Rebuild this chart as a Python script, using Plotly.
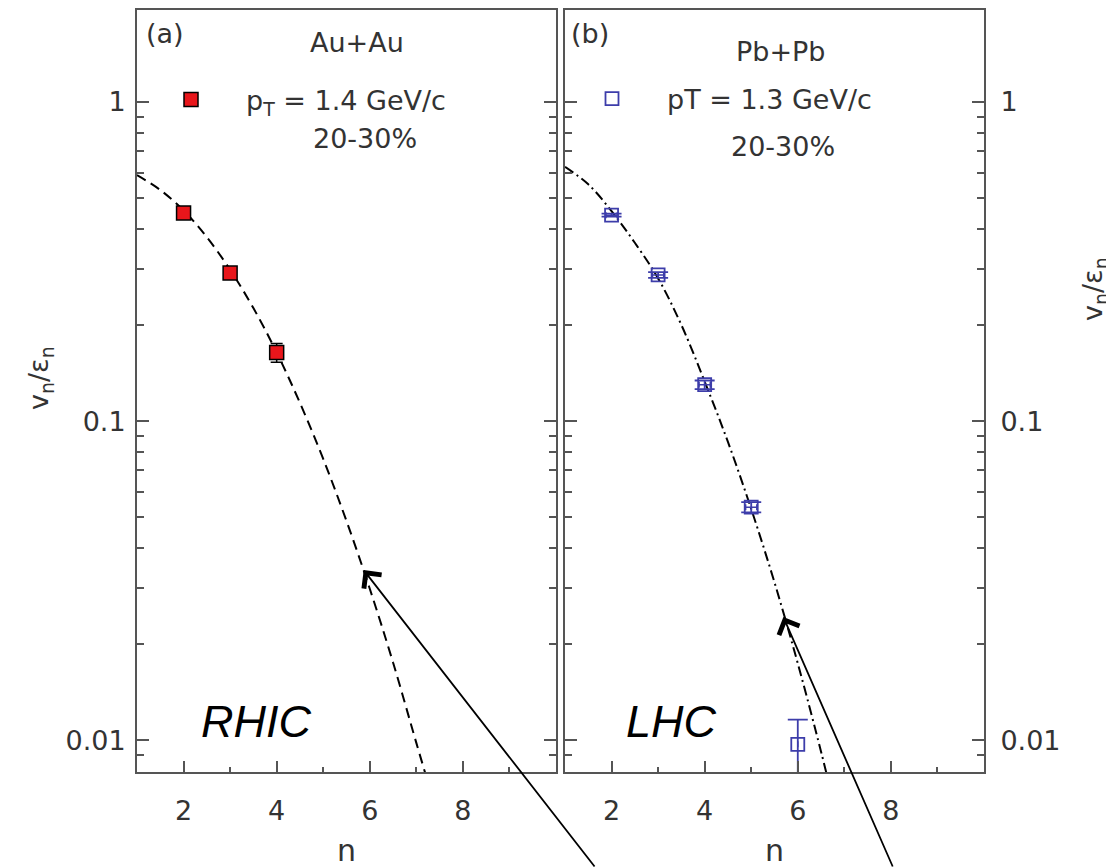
import plotly.graph_objects as go
import math

# ---------------- data ----------------
# RHIC (Au+Au, pT = 1.4 GeV/c, 20-30%)
rhic_n = [2, 3, 4]
rhic_v = [0.449, 0.291, 0.164]
rhic_err = [0.006, 0.008, 0.011]

# RHIC fit curve (dashed)
rhic_curve_n = [1.0, 1.5, 2.0, 2.5, 3.0, 3.5, 4.0, 4.5, 5.0, 5.5, 6.0, 6.5, 7.0, 7.2]
rhic_curve_v = [0.59, 0.53, 0.457, 0.377, 0.298, 0.226, 0.164, 0.114, 0.0761, 0.0486, 0.0298, 0.0175, 0.0098, 0.0078]

# LHC (Pb+Pb, pT = 1.3 GeV/c, 20-30%)
lhc_n = [2, 3, 4, 5, 6]
lhc_v = [0.442, 0.287, 0.130, 0.0537, 0.0097]
lhc_err = [0.005, 0.006, 0.004, 0.002, 0.0019]
lhc_xerr = [0.12, 0.12, 0.12, 0.12, 0.0]

# LHC fit curve (dash-dot)
lhc_curve_n = [1.0, 1.5, 2.0, 2.5, 3.0, 3.5, 4.0, 4.5, 5.0, 5.5, 6.0, 6.5, 6.7]
lhc_curve_v = [0.626, 0.552, 0.455, 0.362, 0.280, 0.200, 0.133, 0.0860, 0.0530, 0.0312, 0.0174, 0.0092, 0.0070]

# arrow targets on the curves (n, value)
rhic_arrow = (5.87, 0.0341)
lhc_arrow = (5.69, 0.0243)

x_ticks = [2, 4, 6, 8]
x_minor = [3, 5, 7, 9]

FONT = "DejaVu Sans"
FS = 27
FRAME = "#555555"
RED = "#e8161b"
BLUE = "#3d3daa"
TXT = "#333333"

# page body has an 8px margin: map reference pixels to figure paper coords
OFF = 8
W, H = 1114 - OFF, 868 - OFF


def px(x):
    return (x - OFF) / W


def py(y):
    return 1 - (y - OFF) / H


fig = go.Figure()

# curves
fig.add_trace(go.Scatter(x=rhic_curve_n, y=rhic_curve_v, mode="lines", xaxis="x", yaxis="y",
                         line=dict(color="black", width=2, dash="10px,6px", shape="spline"),
                         showlegend=False, hoverinfo="skip"))
fig.add_trace(go.Scatter(x=lhc_curve_n, y=lhc_curve_v, mode="lines", xaxis="x2", yaxis="y2",
                         line=dict(color="black", width=2, dash="10px,4px,2px,4px", shape="spline"),
                         showlegend=False, hoverinfo="skip"))

# data points
fig.add_trace(go.Scatter(x=rhic_n, y=rhic_v, mode="markers", xaxis="x", yaxis="y",
                         name="p<sub>T</sub> = 1.4 GeV/c", legend="legend",
                         marker=dict(symbol="square", size=14, color=RED,
                                     line=dict(color="black", width=1.5)),
                         error_y=dict(type="data", array=rhic_err, color="black",
                                      thickness=1.5, width=6)))
fig.add_trace(go.Scatter(x=lhc_n, y=lhc_v, mode="markers", xaxis="x2", yaxis="y2",
                         name="pT = 1.3 GeV/c", legend="legend2",
                         marker=dict(symbol="square-open", size=13, color=BLUE,
                                     line=dict(color=BLUE, width=1.8)),
                         error_y=dict(type="data", array=lhc_err, color=BLUE,
                                      thickness=1.8, width=10),
                         error_x=dict(type="data", array=lhc_xerr, color=BLUE,
                                      thickness=1.5, width=3)))

# log range: 1 at y=102, decade = 319 px, bottom at 772, top at 9.5
TOP = 9.5
yr = [-2.100, (102 - TOP) / 319]
common_x = dict(range=[1, 10], tickvals=x_ticks, ticks="inside", ticklen=11, tickwidth=1.5,
                tickcolor=FRAME, showline=True, linecolor=FRAME, linewidth=2, mirror=True,
                showgrid=False, zeroline=False, ticklabelstandoff=14,
                tickfont=dict(family=FONT, size=FS, color=TXT),
                minor=dict(tickvals=x_minor, ticks="inside", ticklen=5, tickwidth=1.5,
                           tickcolor=FRAME, showgrid=False),
                title=dict(text="n", font=dict(family=FONT, size=FS + 3, color=TXT),
                           standoff=20))
common_y = dict(type="log", range=yr, dtick=1, ticks="inside", ticklen=12, tickwidth=1.5,
                tickcolor=FRAME, showline=True, linecolor=FRAME, linewidth=2, mirror="ticks",
                showgrid=False, zeroline=False,
                tickfont=dict(family=FONT, size=FS, color=TXT),
                minor=dict(dtick="D1", ticks="inside", ticklen=7, tickwidth=1.5,
                           tickcolor=FRAME, showgrid=False))

fig.update_layout(
    width=W, height=H,
    margin=dict(l=0, r=0, t=0, b=0, autoexpand=False),
    paper_bgcolor="white", plot_bgcolor="white",
    xaxis=dict(domain=[px(137), px(556)], anchor="y", **common_x),
    xaxis2=dict(domain=[px(565), px(984)], anchor="y2", **common_x),
    yaxis=dict(domain=[py(772), py(TOP)], anchor="x", side="left",
               ticklabelstandoff=4, **common_y),
    yaxis2=dict(domain=[py(772), py(TOP)], anchor="x2", side="right",
                ticklabelstandoff=9, **common_y),
    legend=dict(x=px(136), y=py(100), xanchor="left", yanchor="middle",
                bgcolor="rgba(0,0,0,0)", borderwidth=0, itemwidth=100,
                font=dict(family=FONT, size=FS, color=TXT)),
    legend2=dict(x=px(557), y=py(99), xanchor="left", yanchor="middle",
                 bgcolor="rgba(0,0,0,0)", borderwidth=0, itemwidth=100,
                 font=dict(family=FONT, size=FS, color=TXT)),
)

txt = dict(family=FONT, size=FS, color=TXT)
ann = [
    dict(x=px(144), y=py(34), text="(a)", xanchor="left", yanchor="middle"),
    dict(x=px(357), y=py(42), text="Au+Au", xanchor="center", yanchor="middle"),
    dict(x=px(365), y=py(139), text="20-30%", xanchor="center", yanchor="middle"),
    dict(x=px(569), y=py(33), text="(b)", xanchor="left", yanchor="middle"),
    dict(x=px(780), y=py(51), text="Pb+Pb", xanchor="center", yanchor="middle"),
    dict(x=px(783), y=py(147), text="20-30%", xanchor="center", yanchor="middle"),
]
for a in ann:
    fig.add_annotation(xref="paper", yref="paper", showarrow=False, font=txt, **a)

big = dict(family="Liberation Sans", size=45, color="black")
fig.add_annotation(xref="paper", yref="paper", x=px(256), y=py(721), text="<i>RHIC</i>",
                   showarrow=False, font=big, xanchor="center", yanchor="middle")
fig.add_annotation(xref="paper", yref="paper", x=px(671), y=py(721), text="<i>LHC</i>",
                   showarrow=False, font=big, xanchor="center", yanchor="middle")

# y axis titles
ytitle = "v<sub>n</sub>/ε<sub>n</sub>"
fig.add_annotation(xref="paper", yref="paper", x=px(40), y=py(378), text=ytitle,
                   textangle=-90, showarrow=False, font=txt, xanchor="center", yanchor="middle")
fig.add_annotation(xref="paper", yref="paper", x=px(1094), y=py(289), text=ytitle,
                   textangle=-90, showarrow=False, font=txt, xanchor="center", yanchor="middle")

# arrows pointing at the curves
fig.add_annotation(xref="x", yref="y", x=rhic_arrow[0], y=math.log10(rhic_arrow[1]),
                   ax=232, ay=298, axref="pixel", ayref="pixel", text="", showarrow=True,
                   arrowhead=4, arrowsize=2.4, arrowwidth=1.8, arrowcolor="black")
fig.add_annotation(xref="x2", yref="y2", x=lhc_arrow[0], y=math.log10(lhc_arrow[1]),
                   ax=110, ay=251, axref="pixel", ayref="pixel", text="", showarrow=True,
                   arrowhead=4, arrowsize=2.4, arrowwidth=1.8, arrowcolor="black")

fig.write_html("out.html")
